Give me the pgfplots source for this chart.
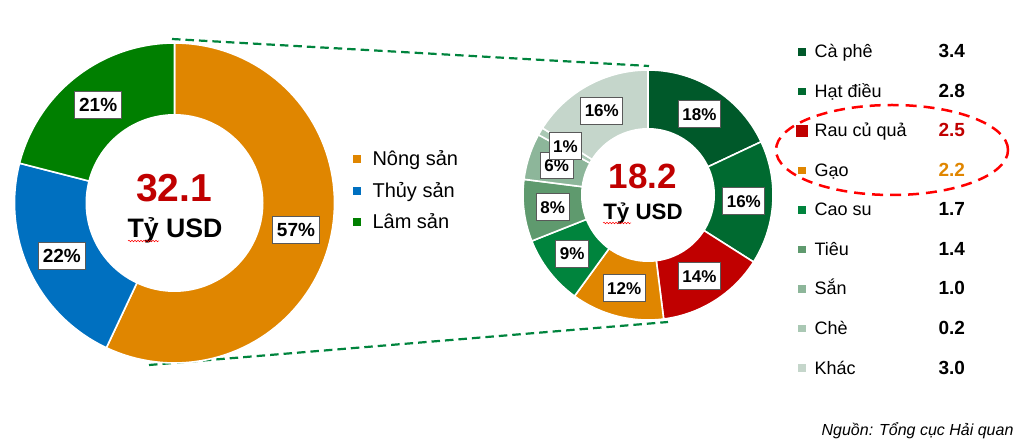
\documentclass[border=0pt]{standalone}
\usepackage{fontspec}
\setmainfont{Liberation Sans}
\usepackage{pgfplots}
\usepackage{pgfplotstable}
\pgfplotsset{compat=1.18}
\usetikzlibrary{decorations.pathmorphing}

\definecolor{cNong}{HTML}{E08600}
\definecolor{cThuy}{HTML}{0070C0}
\definecolor{cLam}{HTML}{007F00}
\definecolor{cCaphe}{HTML}{00592A}
\definecolor{cDieu}{HTML}{006A30}
\definecolor{cRau}{HTML}{C00000}
\definecolor{cGao}{HTML}{E08600}
\definecolor{cCaosu}{HTML}{00843D}
\definecolor{cTieu}{HTML}{5F9A6E}
\definecolor{cSan}{HTML}{8DB69A}
\definecolor{cChe}{HTML}{AAC8B4}
\definecolor{cKhac}{HTML}{C5D6CB}
\definecolor{cLink}{HTML}{00843D}
\definecolor{cBox}{HTML}{595959}
\definecolor{cTotal}{HTML}{C00000}

\newcommand\fs[1]{\fontsize{#1pt}{#1pt}\selectfont}

% Export structure by sector (share in %)
\pgfplotstableread[col sep=comma]{
share,color
57,cNong
22,cThuy
21,cLam
}\tblLeft

% Agricultural products: share in %, value in billion USD
\pgfplotstableread[col sep=comma]{
share,value,color,vcolor,msize,name
18,3.4,cCaphe,black,3.3,Cà phê
16,2.8,cDieu,black,3.3,Hạt điều
14,2.5,cRau,cRau,5.1,Rau củ quả
12,2.2,cGao,cGao,3.3,Gạo
9,1.7,cCaosu,black,3.3,Cao su
8,1.4,cTieu,black,3.3,Tiêu
6,1.0,cSan,black,3.3,Sắn
1,0.2,cChe,black,3.3,Chè
16,3.0,cKhac,black,3.3,Khác
}\tblRight

% #1 table, #2 cx, #3 cy, #4 outer radius, #5 last row index
\newcommand\donutslices[5]{%
  \def\angA{90}%
  \pgfplotsforeachungrouped \k in {0,...,#5}{%
    \pgfplotstablegetelem{\k}{share}\of{#1}\let\v\pgfplotsretval
    \pgfplotstablegetelem{\k}{color}\of{#1}\let\col\pgfplotsretval
    \pgfmathsetmacro\angB{\angA-3.6*\v}%
    \edef\cmd{\noexpand\addplot[fill=\col, draw=white, line width=1.6pt,
      line join=round, domain=\angB:\angA, samples=90]
      ({#2+#4*cos(x)},{#3+#4*sin(x)}) -- (axis cs:#2,#3) -- cycle;}%
    \cmd
    \let\angA\angB
  }%
}

% #1 table, #2 cx, #3 cy, #4 label radius, #5 node style, #6 last row index
\newcommand\donutlabels[6]{%
  \def\angA{90}%
  \pgfplotsforeachungrouped \k in {0,...,#6}{%
    \pgfplotstablegetelem{\k}{share}\of{#1}\let\v\pgfplotsretval
    \pgfmathsetmacro\angM{\angA-1.8*\v}%
    \pgfmathsetmacro\angB{\angA-3.6*\v}%
    \pgfmathsetmacro\lx{#2+#4*cos(\angM)}%
    \pgfmathsetmacro\ly{#3+#4*sin(\angM)}%
    \edef\cmd{\noexpand\node[#5] at (axis cs:\lx,\ly) {\v\noexpand\%};}%
    \cmd
    \let\angA\angB
  }%
}

\tikzset{
  pctL/.style={draw=cBox, fill=white, line width=0.8pt, font=\bfseries\fs{19},
    text height=13.6pt, text depth=0pt, inner xsep=4.5pt, inner ysep=6.7pt},
  pctR/.style={draw=cBox, fill=white, line width=0.8pt, font=\bfseries\fs{17},
    text height=12.2pt, text depth=0pt, inner xsep=4pt, inner ysep=7.2pt},
  squig/.style={red, line width=0.5pt, decorate,
    decoration={snake, amplitude=0.8pt, segment length=3pt}},
}

\begin{document}
\begin{tikzpicture}
\begin{axis}[
  at={(0,0)}, anchor=south west,
  width=1022pt, height=442pt, scale only axis,
  xmin=0, xmax=1022, ymin=0, ymax=442,
  hide axis, clip=false]

% connector lines between the two rings
\addplot[cLink, line width=2.2pt, dash pattern=on 8.5pt off 5pt] coordinates {(172,403) (649,376)};
\addplot[cLink, line width=2.2pt, dash pattern=on 8.5pt off 5pt] coordinates {(149,77) (668,120)};

% left ring
\donutslices{\tblLeft}{174.5}{239}{160}{2}
\addplot[fill=white, draw=none, domain=0:360, samples=120]
  ({174.5+89*cos(x)},{239+89*sin(x)}) -- cycle;

% right ring
\donutslices{\tblRight}{648}{247}{125}{8}
\addplot[fill=white, draw=none, domain=0:360, samples=120]
  ({648+67*cos(x)},{247+67*sin(x)}) -- cycle;

\donutlabels{\tblLeft}{174.5}{239}{124.5}{pctL}{2}
\donutlabels{\tblRight}{648}{247}{96}{pctR}{8}

% totals in the centre
\node[anchor=base, font=\bfseries\fs{39}, text=cTotal] at (axis cs:174,240.3) {32.1};
\node[anchor=base, font=\bfseries\fs{26.7}] at (axis cs:175,204.7) {Tỷ USD};
\draw[squig] (axis cs:128,201) -- (axis cs:159,201);
\node[anchor=base, font=\bfseries\fs{35}, text=cTotal] at (axis cs:643,253.7) {18.2};
\node[anchor=base, font=\bfseries\fs{22.3}] at (axis cs:643,222) {Tỷ USD};
\draw[squig] (axis cs:603,219) -- (axis cs:631,219);

% sector legend
\addplot[cNong, only marks, mark=square*, mark size=3.5pt, mark options={fill=cNong, draw=cNong, line width=0pt}] coordinates {(357,283)};
\addplot[cThuy, only marks, mark=square*, mark size=3.5pt, mark options={fill=cThuy, draw=cThuy, line width=0pt}] coordinates {(357,251)};
\addplot[cLam, only marks, mark=square*, mark size=3.5pt, mark options={fill=cLam, draw=cLam, line width=0pt}] coordinates {(357,220)};
\node[anchor=base west, font=\fs{20}] at (axis cs:369,276) {Nông sản};
\node[anchor=base west, font=\fs{20}] at (axis cs:369,244) {Thủy sản};
\node[anchor=base west, font=\fs{20}] at (axis cs:369,213) {Lâm sản};

% product legend with values
\pgfplotsforeachungrouped \k in {0,...,8}{%
  \pgfplotstablegetelem{\k}{color}\of{\tblRight}\let\col\pgfplotsretval
  \pgfplotstablegetelem{\k}{vcolor}\of{\tblRight}\let\vc\pgfplotsretval
  \pgfplotstablegetelem{\k}{msize}\of{\tblRight}\let\ms\pgfplotsretval
  \pgfplotstablegetelem{\k}{name}\of{\tblRight}\let\nm\pgfplotsretval
  \pgfplotstablegetelem{\k}{value}\of{\tblRight}\let\val\pgfplotsretval
  \pgfmathsetmacro\ym{442-(52+39.5*\k)}%
  \pgfmathsetmacro\yb{\ym-6}%
  \edef\cmd{\noexpand\addplot[\col, only marks, mark=square*, mark size=\ms pt,
      mark options={fill=\col, draw=\col, line width=0pt}] coordinates {(802,\ym)};
    \noexpand\node[anchor=base west, font=\noexpand\fs{18}] at (axis cs:811,\yb) {\nm};
    \noexpand\node[anchor=base west, font=\noexpand\bfseries\noexpand\fs{19}, text=\vc] at (axis cs:935,\yb) {\val};}%
  \cmd
}

% highlight around two products
\draw[red, line width=2.5pt, dash pattern=on 11pt off 7pt] (axis cs:892,292) ellipse [x radius=116pt, y radius=45pt];

% source
\node[anchor=base east, font=\itshape\fs{16}] at (axis cs:1017,7) {Nguồn: Tổng cục Hải quan};
\end{axis}
\pgfresetboundingbox
\path[use as bounding box] (0,0) rectangle (1022pt,442pt);
\end{tikzpicture}
\end{document}
